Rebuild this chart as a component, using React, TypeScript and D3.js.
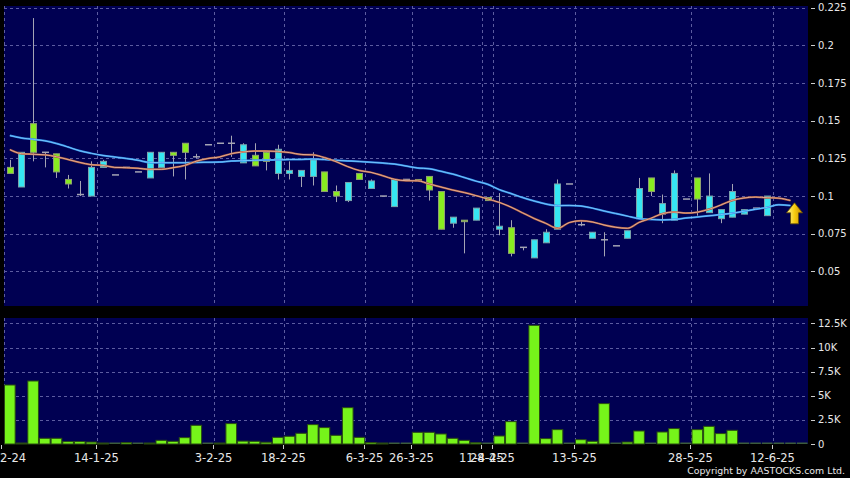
import React from 'react';
import * as d3 from 'd3';

// ---- data ----
const dateLabels = ['30-12-24', '14-1-25', '3-2-25', '18-2-25', '6-3-25', '26-3-25', '11-4-25', '28-4-25', '13-5-25', '28-5-25', '12-6-25'];
const dateLabelIdx = [0, 8, 18, 24, 31, 35, 41, 42, 49, 59, 66];

const opens = [0.119, 0.106, 0.148, 0.129, 0.128, 0.111, 0.101, 0.100, 0.119, 0.114, 0.119, 0.116, 0.112, 0.119, 0.129, 0.135, 0.126, 0.134, 0.135, 0.135, 0.122, 0.127, 0.129, 0.115, 0.115, 0.113, 0.113, 0.116, 0.103, 0.097, 0.115, 0.105, 0.100, 0.093, 0.111, 0.111, 0.113, 0.103, 0.082, 0.084, 0.084, 0.099, 0.078, 0.079, 0.066, 0.059, 0.069, 0.078, 0.108, 0.081, 0.072, 0.071, 0.067, 0.072, 0.085, 0.112, 0.088, 0.084, 0.098, 0.112, 0.089, 0.085, 0.086, 0.088, 0.092, 0.087];
const highs = [0.124, 0.129, 0.218, 0.129, 0.128, 0.114, 0.110, 0.123, 0.124, 0.114, 0.119, 0.116, 0.129, 0.129, 0.129, 0.135, 0.128, 0.134, 0.135, 0.140, 0.135, 0.135, 0.129, 0.134, 0.123, 0.117, 0.129, 0.116, 0.107, 0.109, 0.115, 0.111, 0.100, 0.111, 0.111, 0.111, 0.113, 0.103, 0.086, 0.084, 0.092, 0.099, 0.102, 0.084, 0.066, 0.071, 0.078, 0.111, 0.108, 0.084, 0.076, 0.076, 0.067, 0.077, 0.112, 0.112, 0.101, 0.117, 0.098, 0.112, 0.115, 0.091, 0.108, 0.091, 0.092, 0.100];
const lows = [0.115, 0.106, 0.123, 0.119, 0.112, 0.105, 0.100, 0.100, 0.119, 0.114, 0.119, 0.116, 0.112, 0.119, 0.113, 0.111, 0.125, 0.134, 0.135, 0.126, 0.122, 0.120, 0.117, 0.111, 0.111, 0.106, 0.107, 0.103, 0.096, 0.096, 0.111, 0.105, 0.100, 0.093, 0.111, 0.110, 0.097, 0.078, 0.079, 0.062, 0.084, 0.097, 0.074, 0.060, 0.064, 0.059, 0.069, 0.078, 0.108, 0.080, 0.072, 0.060, 0.067, 0.072, 0.085, 0.100, 0.082, 0.084, 0.098, 0.087, 0.089, 0.082, 0.086, 0.088, 0.092, 0.087];
const closes = [0.115, 0.129, 0.129, 0.129, 0.116, 0.108, 0.101, 0.119, 0.123, 0.114, 0.119, 0.116, 0.129, 0.129, 0.127, 0.129, 0.126, 0.134, 0.135, 0.135, 0.134, 0.120, 0.123, 0.131, 0.117, 0.117, 0.124, 0.103, 0.100, 0.109, 0.111, 0.110, 0.100, 0.111, 0.111, 0.110, 0.104, 0.078, 0.086, 0.083, 0.092, 0.097, 0.080, 0.062, 0.066, 0.071, 0.076, 0.108, 0.108, 0.081, 0.076, 0.071, 0.067, 0.077, 0.105, 0.103, 0.095, 0.115, 0.098, 0.098, 0.100, 0.091, 0.103, 0.091, 0.092, 0.100];

const volumes = [6120, 100, 6535, 590, 590, 250, 250, 200, 30, 0, 150, 0, 30, 380, 280, 660, 1940, 0, 50, 2115, 300, 280, 180, 690, 800, 1110, 2010, 1700, 900, 3770, 690, 150, 80, 0, 0, 1210, 1210, 1040, 590, 380, 130, 0, 830, 2320, 0, 12310, 560, 1490, 0, 450, 280, 4190, 0, 200, 1350, 0, 1245, 1600, 0, 1490, 1830, 1080, 1420, 0, 0, 0, 0, 0, 0];

const maFast = [0.1308, 0.1281, 0.1277, 0.1273, 0.1261, 0.1242, 0.1223, 0.1208, 0.1203, 0.1190, 0.1188, 0.1184, 0.1177, 0.1177, 0.1188, 0.1203, 0.1231, 0.1249, 0.1259, 0.1281, 0.1292, 0.1298, 0.1298, 0.1296, 0.1288, 0.1276, 0.1273, 0.1255, 0.1228, 0.1195, 0.1169, 0.1157, 0.1135, 0.1111, 0.1102, 0.1101, 0.1080, 0.1060, 0.1040, 0.1023, 0.1003, 0.0981, 0.0958, 0.0927, 0.0889, 0.0851, 0.0819, 0.0786, 0.0824, 0.0836, 0.0828, 0.0808, 0.0793, 0.0786, 0.0825, 0.0852, 0.0883, 0.0894, 0.0887, 0.0893, 0.0912, 0.0940, 0.0971, 0.0987, 0.0993, 0.0989, 0.0986, 0.0970];
const maSlow = [0.1401, 0.1385, 0.1376, 0.1366, 0.1348, 0.1325, 0.1300, 0.1283, 0.1269, 0.1259, 0.1249, 0.1237, 0.1223, 0.1221, 0.1221, 0.1221, 0.1223, 0.1224, 0.1225, 0.1232, 0.1235, 0.1237, 0.1239, 0.1240, 0.1242, 0.1243, 0.1245, 0.1242, 0.1237, 0.1233, 0.1229, 0.1224, 0.1219, 0.1212, 0.1199, 0.1186, 0.1181, 0.1164, 0.1146, 0.1123, 0.1099, 0.1078, 0.1043, 0.1017, 0.0990, 0.0967, 0.0947, 0.0936, 0.0938, 0.0934, 0.0920, 0.0901, 0.0884, 0.0867, 0.0850, 0.0845, 0.0842, 0.0844, 0.0854, 0.0861, 0.0869, 0.0877, 0.0886, 0.0899, 0.0912, 0.0925, 0.0942, 0.0937];

const priceTicks = [0.05, 0.075, 0.1, 0.125, 0.15, 0.175, 0.2, 0.225];
const priceTickLabels = ['0.05', '0.075', '0.1', '0.125', '0.15', '0.175', '0.2', '0.225'];
const volTicks = [0, 2500, 5000, 7500, 10000, 12500];
const volTickLabels = ['0', '2.5K', '5K', '7.5K', '10K', '12.5K'];
const arrowPrice = 0.0955;
const arrowSlot = 67;

// ---- layout ----
const W = 850, H = 478;
const PL = 4, PR = 808;
const PT = 6, PB = 306;
const VT = 318, VB = 444;
const NSLOTS = 69;

const NAVY = '#000052';
const GRID = '#5c5ca0';
const CYAN = '#36e6f2';
const GREEN = '#88ec20';
const TXT = '#e8e8e8';
const FONT = '"DejaVu Sans", Verdana, sans-serif';

export default function App() {
  const x = d3.scaleBand<number>().domain(d3.range(NSLOTS)).range([PL, PR]).paddingInner(0).paddingOuter(0);
  const step = x.step();
  const cx = (i: number) => (x(i) as number) + step / 2;
  const y = d3.scaleLinear().domain([0.0271, 0.226]).range([PB, PT]);
  const yv = d3.scaleLinear().domain([0, 13070]).range([VB, VT]);

  const lineMA = d3.line<number>().x((_, i) => cx(i)).y(d => y(d)).curve(d3.curveMonotoneX);

  const bodyW = 6;
  const ax = cx(arrowSlot) + 4;
  const ay = y(arrowPrice);

  return (
    <svg width={W} height={H} style={{ position: 'absolute', left: 0, top: 0, background: '#000' }} fontFamily={FONT}>
      <defs>
        <clipPath id="pclip"><rect x={PL} y={PT} width={PR - PL} height={PB - PT} /></clipPath>
        <linearGradient id="arrowGrad" x1="0" y1="0" x2="1" y2="0">
          <stop offset="0" stopColor="#fff59a" />
          <stop offset="0.5" stopColor="#f7cc10" />
          <stop offset="1" stopColor="#c88a00" />
        </linearGradient>
      </defs>
      <rect x={0} y={0} width={W} height={H} fill="#000" />
      {/* price panel */}
      <rect x={PL} y={PT} width={PR - PL} height={PB - PT} fill={NAVY} />
      {priceTicks.map((t, k) => (
        <line key={'pg' + k} x1={PL} x2={PR} y1={Math.round(y(t)) + 0.5} y2={Math.round(y(t)) + 0.5} stroke={GRID} strokeDasharray="3,3" />
      ))}
      {dateLabelIdx.map((d, k) => (
        <line key={'pv' + k} x1={Math.round(x(d) as number) + 0.5} x2={Math.round(x(d) as number) + 0.5} y1={PT} y2={PB} stroke={GRID} strokeDasharray="3,3" />
      ))}
      {/* volume panel */}
      <rect x={PL} y={VT} width={PR - PL} height={VB - VT} fill={NAVY} />
      {volTicks.slice(1).map((t, k) => (
        <line key={'vg' + k} x1={PL} x2={PR} y1={Math.round(yv(t)) + 0.5} y2={Math.round(yv(t)) + 0.5} stroke={GRID} strokeDasharray="3,3" />
      ))}
      {dateLabelIdx.map((d, k) => (
        <line key={'vv' + k} x1={Math.round(x(d) as number) + 0.5} x2={Math.round(x(d) as number) + 0.5} y1={VT} y2={VB} stroke={GRID} strokeDasharray="3,3" />
      ))}

      {/* volume bars */}
      {volumes.map((v, i) => {
        const top = yv(v);
        const h = Math.max(1, yv(0) - top);
        return v > 0 ? (
          <rect key={'vb' + i} x={(x(i) as number) + 0.5} y={yv(0) - h} width={step - 1} height={h} fill="#76f41a" stroke="#2a4c12" strokeWidth={1} />
        ) : (
          <rect key={'vb' + i} x={(x(i) as number) + 0.5} y={yv(0) - 1.5} width={step - 1} height={1.5} fill="#3c5c3c" />
        );
      })}

      {/* candles */}
      <g clipPath="url(#pclip)">
        {opens.map((o, i) => {
          const c = closes[i];
          const hi = highs[i];
          const lo = lows[i];
          const xc = Math.round(cx(i)) + 0.5;
          const wick = hi !== lo ? (
            <line x1={xc} x2={xc} y1={y(hi)} y2={y(lo)} stroke="#a4a4b4" strokeWidth={1} />
          ) : null;
          if (o === c) {
            return (
              <g key={'c' + i}>
                {wick}
                <line x1={xc - bodyW / 2 - 0.5} x2={xc + bodyW / 2 + 0.5} y1={y(c)} y2={y(c)} stroke="#a4a4b4" strokeWidth={1.5} />
              </g>
            );
          }
          const up = c > o;
          const top = y(Math.max(o, c));
          const bot = y(Math.min(o, c));
          return (
            <g key={'c' + i}>
              {wick}
              <rect x={xc - bodyW / 2} y={top} width={bodyW} height={Math.max(1.5, bot - top)} fill={up ? CYAN : GREEN} stroke={up ? '#7aa2aa' : '#8fa070'} strokeWidth={1} />
            </g>
          );
        })}
        {/* moving averages */}
        <path d={lineMA(maSlow) || ''} fill="none" stroke="#2f8ae4" strokeWidth={2} />
        <path d={lineMA(maSlow) || ''} fill="none" stroke="#86d0ff" strokeWidth={0.8} />
        <path d={lineMA(maFast) || ''} fill="none" stroke="#a8583c" strokeWidth={2} />
        <path d={lineMA(maFast) || ''} fill="none" stroke="#f0c0a8" strokeWidth={0.8} />
      </g>

      {/* last price arrow */}
      <path
        d={`M${ax},${ay} L${ax + 8},${ay + 10} L${ax + 4},${ay + 10} L${ax + 4},${ay + 21} L${ax - 4},${ay + 21} L${ax - 4},${ay + 10} L${ax - 8},${ay + 10} Z`}
        fill="url(#arrowGrad)" stroke="#6a5000" strokeWidth={0.8}
      />

      {/* right price axis */}
      {priceTicks.map((t, k) => (
        <g key={'pt' + k}>
          <line x1={811} x2={815} y1={Math.round(y(t)) + 0.5} y2={Math.round(y(t)) + 0.5} stroke="#cccccc" />
          <text x={818} y={y(t)} dy="0.36em" fontSize={10} fill={TXT}>{priceTickLabels[k]}</text>
        </g>
      ))}
      {/* right volume axis */}
      {volTicks.map((t, k) => (
        <g key={'vt' + k}>
          <line x1={811} x2={815} y1={Math.round(yv(t)) + 0.5} y2={Math.round(yv(t)) + 0.5} stroke="#cccccc" />
          <text x={818} y={yv(t)} dy="0.36em" fontSize={10} fill={TXT}>{volTickLabels[k]}</text>
        </g>
      ))}
      {/* x axis */}
      {dateLabelIdx.map((d, k) => {
        const xx = Math.round(x(d) as number) + 0.5;
        const tx = k === 0 ? 0 : xx - 1;
        return (
          <g key={'xt' + k}>
            <line x1={k === 0 ? 1.5 : xx - 1} x2={k === 0 ? 1.5 : xx - 1} y1={VB + 1} y2={VB + 5} stroke="#cccccc" />
            <text x={tx} y={461.5} fontSize={11.5} fill={TXT} textAnchor="middle">{dateLabels[k]}</text>
          </g>
        );
      })}
      <text x={845} y={473.5} fontSize={9.4} fill={TXT} textAnchor="end">Copyright by AASTOCKS.com Ltd.</text>
    </svg>
  );
}
